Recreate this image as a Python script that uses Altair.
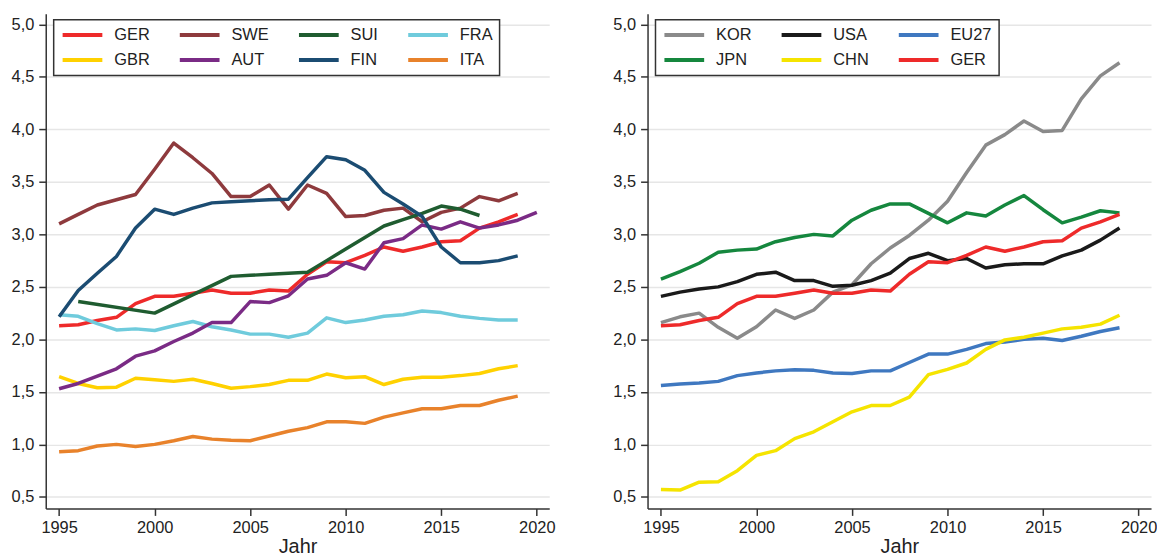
import altair as alt
import pandas as pd

YEARS = list(range(1995, 2021))

# left panel series
GER = [2.13, 2.14, 2.18, 2.21, 2.34, 2.41, 2.41, 2.44, 2.47, 2.44, 2.44, 2.47, 2.46, 2.62, 2.74, 2.73, 2.80, 2.88, 2.84, 2.88, 2.93, 2.94, 3.06, 3.12, 3.19, None]
SWE = [3.10, 3.19, 3.28, 3.33, 3.38, 3.62, 3.87, 3.73, 3.58, 3.36, 3.36, 3.47, 3.24, 3.47, 3.39, 3.17, 3.18, 3.23, 3.25, 3.12, 3.21, 3.25, 3.36, 3.32, 3.39, None]
SUI = [None, 2.36, None, None, None, 2.25, None, None, None, 2.60, 2.61, 2.62, 2.63, 2.64, 2.75, 2.86, 2.97, 3.08, 3.14, 3.20, 3.27, 3.24, 3.18, None, None, None]
FRA = [2.235, 2.22, 2.15, 2.09, 2.10, 2.085, 2.13, 2.17, 2.12, 2.09, 2.05, 2.05, 2.02, 2.06, 2.205, 2.16, 2.185, 2.22, 2.235, 2.27, 2.255, 2.22, 2.20, 2.185, 2.185, None]
GBR = [1.645, 1.58, 1.54, 1.545, 1.63, 1.615, 1.60, 1.62, 1.58, 1.535, 1.55, 1.57, 1.61, 1.61, 1.67, 1.635, 1.645, 1.57, 1.62, 1.64, 1.64, 1.655, 1.675, 1.72, 1.75, None]
AUT = [1.53, 1.58, 1.65, 1.72, 1.84, 1.89, 1.98, 2.06, 2.16, 2.16, 2.36, 2.35, 2.415, 2.575, 2.61, 2.73, 2.67, 2.92, 2.96, 3.09, 3.05, 3.12, 3.06, 3.09, 3.135, 3.21]
FIN = [2.215, 2.465, 2.63, 2.79, 3.06, 3.24, 3.19, 3.25, 3.30, 3.31, 3.32, 3.33, 3.335, 3.54, 3.74, 3.71, 3.61, 3.40, 3.29, 3.17, 2.88, 2.73, 2.73, 2.75, 2.795, None]
ITA = [0.93, 0.94, 0.985, 1.0, 0.98, 1.0, 1.035, 1.075, 1.05, 1.04, 1.035, 1.08, 1.125, 1.16, 1.215, 1.215, 1.20, 1.26, 1.30, 1.34, 1.34, 1.37, 1.37, 1.42, 1.46, None]

# right panel series
KOR = [2.16, 2.215, 2.25, 2.115, 2.01, 2.12, 2.28, 2.20, 2.28, 2.45, 2.52, 2.72, 2.87, 2.99, 3.135, 3.315, 3.59, 3.85, 3.95, 4.08, 3.98, 3.99, 4.29, 4.51, 4.635, None]
JPN = [2.574, 2.646, 2.725, 2.83, 2.85, 2.86, 2.93, 2.97, 3.0, 2.985, 3.135, 3.23, 3.29, 3.29, 3.20, 3.11, 3.205, 3.175, 3.28, 3.37, 3.235, 3.11, 3.165, 3.225, 3.205, None]
USA = [2.41, 2.45, 2.48, 2.50, 2.55, 2.62, 2.64, 2.56, 2.56, 2.505, 2.515, 2.56, 2.63, 2.77, 2.82, 2.75, 2.77, 2.68, 2.71, 2.72, 2.72, 2.795, 2.85, 2.945, 3.06, None]
CHN = [0.57, 0.565, 0.64, 0.645, 0.75, 0.895, 0.94, 1.055, 1.12, 1.215, 1.31, 1.37, 1.37, 1.45, 1.665, 1.715, 1.775, 1.905, 1.995, 2.02, 2.06, 2.10, 2.115, 2.145, 2.23, None]
EU27 = [1.56, 1.575, 1.585, 1.60, 1.655, 1.68, 1.70, 1.71, 1.705, 1.68, 1.675, 1.70, 1.70, 1.78, 1.86, 1.86, 1.905, 1.96, 1.975, 2.0, 2.01, 1.99, 2.03, 2.075, 2.11, None]

# legend order (filled column by column, two rows)
LEFT_ORDER = ["GER", "GBR", "SWE", "AUT", "SUI", "FIN", "FRA", "ITA"]
LEFT_COLORS = ["#ee2a2a", "#ffd100", "#8e3a3d", "#7a2b85", "#1f5c30", "#1b4c72", "#6fcbdc", "#e8822b"]
RIGHT_ORDER = ["KOR", "JPN", "USA", "CHN", "EU27", "GER"]
RIGHT_COLORS = ["#8a8a8a", "#15873e", "#1a1a1a", "#f5e400", "#3f78c0", "#ee2a2a"]

X_TICKS = [1995, 2000, 2005, 2010, 2015, 2020]
Y_TICKS = [0.5, 1.0, 1.5, 2.0, 2.5, 3.0, 3.5, 4.0, 4.5, 5.0]

FONT = "Liberation Sans"


def long_frame(series):
    rows = []
    for name, vals in series.items():
        for yr, v in zip(YEARS, vals):
            if v is not None:
                rows.append({"Jahr": yr, "Land": name, "Wert": v})
    return pd.DataFrame(rows)


left_df = long_frame({"GER": GER, "SWE": SWE, "SUI": SUI, "FRA": FRA,
                      "GBR": GBR, "AUT": AUT, "FIN": FIN, "ITA": ITA})
right_df = long_frame({"KOR": KOR, "USA": USA, "EU27": EU27,
                       "JPN": JPN, "CHN": CHN, "GER": GER})


def panel(df, order, colors, ncols):
    return alt.Chart(df).mark_line(strokeWidth=3.5, strokeJoin="round").encode(
        x=alt.X("Jahr:Q",
                scale=alt.Scale(domain=[1994.3, 2020.65], nice=False, zero=False),
                axis=alt.Axis(values=X_TICKS, format="d", title="Jahr", grid=False,
                              labelFlush=False, labelPadding=4, titlePadding=1)),
        y=alt.Y("Wert:Q",
                scale=alt.Scale(domain=[0.39, 5.10], nice=False, zero=False),
                axis=alt.Axis(values=Y_TICKS, title=None, grid=True, labelPadding=5,
                              labelExpr="replace(format(datum.value, '.1f'), '.', ',')")),
        color=alt.Color("Land:N",
                        scale=alt.Scale(domain=order, range=colors),
                        legend=alt.Legend(title=None, orient="none", legendX=8, legendY=6,
                                          columns=ncols, symbolType="stroke",
                                          symbolSize=1600, symbolStrokeWidth=4,
                                          clipHeight=16, labelFontSize=16.5,
                                          labelFont=FONT, labelColor="#222",
                                          labelOffset=10, columnPadding=28,
                                          rowPadding=8.5, padding=7,
                                          strokeColor="#333",
                                          fillColor="white")),
    ).properties(width=507, height=498)


left = panel(left_df, LEFT_ORDER, LEFT_COLORS, 4)
right = panel(right_df, RIGHT_ORDER, RIGHT_COLORS, 3)

chart = alt.hconcat(left, right, spacing=58).resolve_scale(
    color="independent"
).properties(
    padding={"left": 3, "top": 4, "right": 0, "bottom": 0},
    background="white",
).configure_axis(
    labelFont=FONT, titleFont=FONT, labelFontSize=16.5, titleFontSize=20,
    titleFontWeight="normal", labelColor="#222", titleColor="#222",
    domainColor="#333", domainWidth=1.5, tickColor="#333", tickWidth=1.5,
    tickSize=7, gridColor="#e6e6e6", gridWidth=1.5,
).configure_legend(
    strokeWidth=1.5
).configure_view(strokeWidth=0)

chart.save("out.html", embed_options={"renderer": "svg", "actions": False})
